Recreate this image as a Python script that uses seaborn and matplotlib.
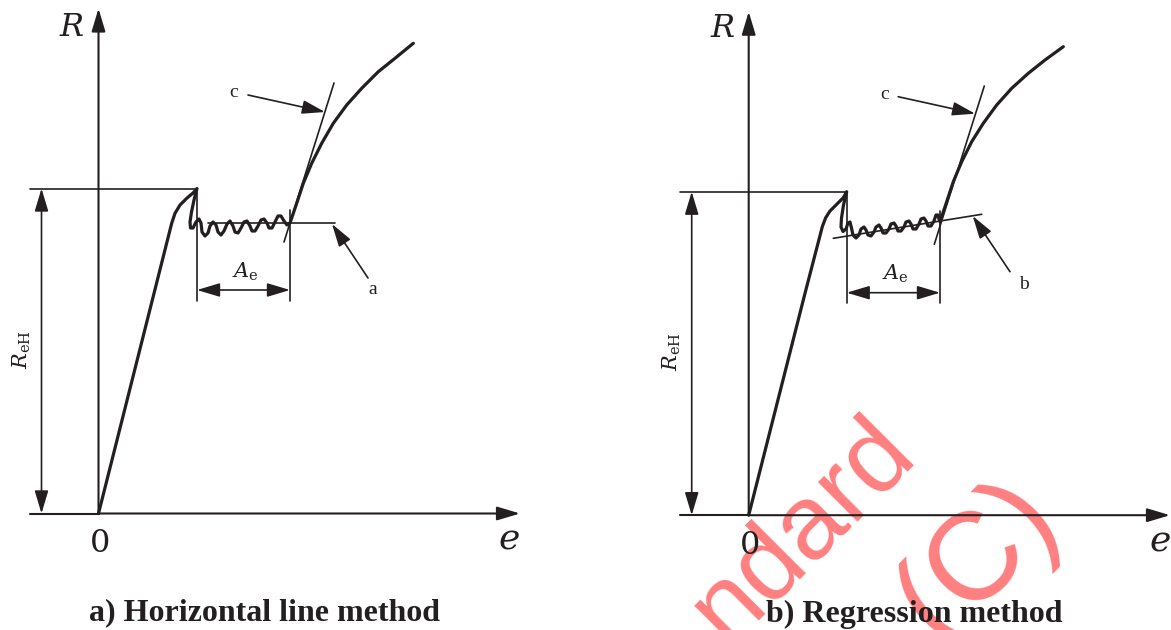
import matplotlib
matplotlib.use("Agg")
import matplotlib.pyplot as plt
import seaborn as sns

# Schematic stress-strain curves (R against e), units are arbitrary drawing units
# panel a) horizontal line method
a_curve_e = [0, 69.8, 73.2, 76.5, 81.5, 88.2, 94.8, 98.5,
             95.5, 93, 91.5, 92, 94.5, 97.5, 100.5, 102.5, 103.5, 106.5, 109.5,
             111.5, 114.5, 117.5, 119.5, 122.5, 125.5, 128.5, 131.5, 134.5, 136.5,
             139.5, 142.5, 145.5, 148.5, 151.5, 153.5, 156.5, 159.5, 162.5, 165.5,
             168.5, 170.5, 173.5, 176.5, 179.5, 182.5, 185.5, 188.5, 191.5,
             198.2, 204.8, 213.2, 223.2, 234.8, 248.2, 263.2, 279.8, 296.5, 314.8]
a_curve_R = [0, 276.8, 290.2, 300.2, 308.5, 315.2, 320.8, 325,
             313.5, 301.5, 291.5, 285.5, 285.5, 291.5, 294.5, 290.5, 281.5, 277.5, 280.5,
             287.5, 291.5, 288.5, 281.5, 278.5, 282.5, 289.5, 292.5, 287.5, 281.5,
             280.5, 285.5, 291.5, 292.5, 287.5, 282.5, 282.5, 287.5, 293.5, 294.5,
             290.5, 285.5, 285.5, 291.5, 297.5, 297.5, 292.5, 288.5, 290.5,
             310.2, 330.2, 350.2, 370.2, 390.2, 408.5, 425.2, 441.8, 455.2, 470.2]

# panel b) regression method
b_curve_e = [0, 56.3, 70.6, 73.6, 77, 81.3, 88, 94.6, 98,
             94.8, 92.8, 92.3, 94.3, 97.3, 99.3, 101.3, 102.8, 104.3, 107.3, 110.3,
             112.3, 115.3, 117.3, 119.3, 122.3, 125.3, 127.3, 130.3, 132.3, 134.3,
             137.3, 140.3, 142.3, 145.3, 147.3, 149.3, 152.3, 155.3, 157.3, 160.3,
             162.3, 164.3, 167.3, 170.3, 172.3, 175.3, 177.3, 179.3, 182.3, 185.3,
             187.3, 189.3, 190.3, 191.3,
             198, 204.6, 213, 223, 234.6, 248, 263, 279.6, 296.3, 314.6]
b_curve_R = [0, 221.9, 276.9, 288.5, 297.5, 304.2, 310.9, 317.5, 323.5,
             310.2, 297.2, 288.2, 283.7, 286.2, 292.2, 293.2, 287.2, 280.2, 277.2, 280.2,
             286.2, 288.2, 285.2, 280.2, 279.2, 283.2, 288.2, 290.2, 287.2, 282.2,
             282.2, 286.2, 291.2, 292.2, 289.2, 284.2, 284.2, 288.2, 293.2, 294.2,
             291.2, 286.2, 286.2, 291.2, 296.2, 297.2, 294.2, 289.2, 289.2, 294.2,
             300.2, 300.2, 296.2, 293.5,
             313.5, 333.5, 353.5, 373.5, 391.9, 410.2, 426.9, 441.9, 455.2, 468.5]

# construction lines
a_ReH, b_ReH = 325, 323.5            # upper yield strength level
a_hinge = (191.5, 290.5)             # end of yield plateau
b_hinge = (191.3, 293.5)
a_tangent_e, a_tangent_R = [185.5, 235.5], [271.5, 430.5]
b_tangent_e, b_tangent_R = [185.6, 235.6], [270.9, 429.2]
a_horiz_e, a_horiz_R = [109.5, 236.5], [290.5, 290.5]
b_regr_e, b_regr_R = [84.6, 233], [276.9, 300.9]

titles = ["a) Horizontal line method", "b) Regression method"]

INK = "#231f20"

sns.set_style("white")
plt.rcParams["mathtext.fontset"] = "dejavuserif"

W, H = 1171, 630
fig = plt.figure(figsize=(W / 100, H / 100), dpi=100)


def arrow(ax, tail, tip, lw=1.2, both=False):
    style = "<|-|>" if both else "-|>"
    ax.annotate("", xy=tip, xytext=tail,
                arrowprops=dict(arrowstyle=style + ",head_length=1.4,head_width=0.42",
                                lw=lw, color=INK, shrinkA=0, shrinkB=0,
                                mutation_scale=10))


def panel(ox, oy, curve_e, curve_R, ReH, hinge, tan_e, tan_R, fit_e, fit_R,
          ae_R, y_top, x_end, title, fit_label, fit_arrow):
    ax = fig.add_axes([0, 0, 1, 1])
    ax.set_xlim(-ox, W - ox)
    ax.set_ylim(oy - H, oy)
    ax.set_facecolor("none")
    ax.axis("off")
    peak_e = max(e for e, r in zip(curve_e, curve_R) if r == ReH)

    # axes with arrowheads
    ax.plot([-68.5, 0], [0, 0], color=INK, lw=1.5)
    arrow(ax, (0, 0), (x_end, 0), lw=1.5)
    arrow(ax, (0, 0), (0, y_top), lw=1.5)

    # R_eH level and dimension
    ax.plot([-68.5, peak_e], [ReH, ReH], color=INK, lw=1.2)
    arrow(ax, (-57, 0), (-57, ReH), both=True)

    # plateau length A_e
    ax.plot([peak_e, peak_e], [ReH, 212.5], color=INK, lw=1.2)
    ax.plot([hinge[0], hinge[0]], [304, 212.5], color=INK, lw=1.2)
    arrow(ax, (peak_e, ae_R), (hinge[0], ae_R), both=True)

    # tangent and plateau fit
    sns.lineplot(x=tan_e, y=tan_R, ax=ax, color=INK, lw=1.2)
    sns.lineplot(x=fit_e, y=fit_R, ax=ax, color=INK, lw=1.2)

    # the curve itself
    sns.lineplot(x=curve_e, y=curve_R, sort=False, estimator=None, ax=ax,
                 color=INK, lw=2.3, solid_joinstyle="round", solid_capstyle="round")

    # callouts
    arrow(ax, (149.5, 418.5), (226.5, 401.5))
    ax.text(135.5, 421, "c", fontsize=14, family="Liberation Serif",
            ha="center", va="center", color=INK)
    arrow(ax, fit_arrow[0], fit_arrow[1])
    ax.text(fit_arrow[2][0], fit_arrow[2][1], fit_label, fontsize=14,
            family="Liberation Serif", ha="center", va="center", color=INK)

    ax.text(147, 235.5, r"$A_{\mathrm{e}}$", fontsize=15, ha="center",
            va="baseline", color=INK)
    ax.text(-76.5, 164, r"$R_{\mathrm{eH}}$", fontsize=15, rotation=90,
            ha="center", va="center", color=INK)
    ax.text(-26.5, 478, "R", fontsize=23, family="DejaVu Serif", style="italic",
            ha="center", va="baseline", color=INK)
    ax.text(1.5, -38.5, "0", fontsize=23, family="DejaVu Serif",
            ha="center", va="baseline", color=INK)
    ax.text(411, -36.5, "e", fontsize=26, family="DejaVu Serif", style="italic",
            ha="center", va="baseline", color=INK)
    ax.text(166, -106.5, title, fontsize=23, family="Liberation Serif",
            weight="bold", ha="center", va="baseline", color=INK)
    return ax


panel(98.5, 513.5, a_curve_e, a_curve_R, a_ReH, a_hinge, a_tangent_e, a_tangent_R,
      a_horiz_e, a_horiz_R, 223.5, 505, 421.5, titles[0], "a",
      ((269.5, 235.5), (233.5, 289.5), (274.5, 224.5)))
panel(748.7, 515.2, b_curve_e, b_curve_R, b_ReH, b_hinge, b_tangent_e, b_tangent_R,
      b_regr_e, b_regr_R, 222.5, 503.5, 421.3, titles[1], "b",
      ((261.3, 243.5), (224, 299.2), (275.3, 231.2)))

# watermark behind the drawing
fig.text(803 / W, 1 - 530 / H, "ndard", fontsize=76, family="Liberation Sans",
         color="red", alpha=0.5, rotation=45, ha="center", va="center", zorder=-1)
fig.text(978 / W, 1 - 560 / H, "(C)", fontsize=90, family="Liberation Sans",
         color="red", alpha=0.5, rotation=45, ha="center", va="center", zorder=-1)

fig.savefig("out.png", dpi=100)
